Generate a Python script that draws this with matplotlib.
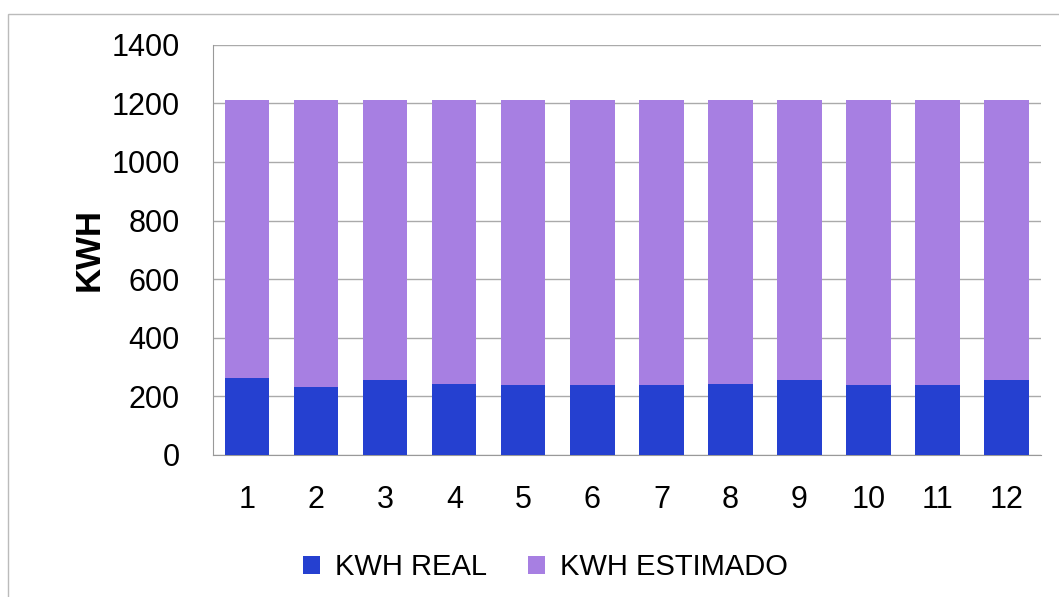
import matplotlib.pyplot as plt
from matplotlib.patches import Rectangle

plt.rcParams['font.family'] = ['Liberation Sans', 'DejaVu Sans']

meses = [str(i) for i in range(1, 13)]
kwh_real = [262, 232, 255, 242, 238, 238, 238, 242, 255, 238, 238, 255]
kwh_estimado = [1213] * 12

fig = plt.figure(figsize=(10.59, 5.97), dpi=100)
ax = fig.add_axes([0.201, 0.238, 0.782, 0.687])

x = range(len(meses))
ax.bar(x, kwh_estimado, width=0.64, color='#a77fe2', label='KWH ESTIMADO', zorder=2)
ax.bar(x, kwh_real, width=0.64, color='#2540d0', label='KWH REAL', zorder=3)

ax.set_xlim(-0.5, 11.5)
ax.set_ylim(0, 1400)
ax.set_yticks(range(0, 1401, 200))
ax.set_xticks(list(x))
ax.set_xticklabels(meses)
ax.tick_params(axis='both', labelsize=22, length=0)
ax.tick_params(axis='y', pad=24)
ax.tick_params(axis='x', pad=22)
ax.grid(axis='y', color='#aaaaaa', linewidth=1, zorder=0)
for s in ['top', 'right']:
    ax.spines[s].set_visible(False)
ax.spines['left'].set_color('#999999')
ax.spines['bottom'].set_color('#999999')
ax.set_ylabel('KWH', fontsize=25, labelpad=4, fontweight='bold', fontstretch='condensed')

handles, labels = ax.get_legend_handles_labels()
fig.legend(handles[::-1], labels[::-1], loc='center', bbox_to_anchor=(0.515, 0.05),
           ncol=2, frameon=False, fontsize=21, handlelength=0.6, handleheight=0.6,
           handletextpad=0.5, columnspacing=1.4)

fig.patches.append(Rectangle((0.008, -0.01), 1.2, 0.987, transform=fig.transFigure,
                             fill=False, edgecolor='#bbbbbb', linewidth=1))

fig.savefig('out.png', dpi=100)
